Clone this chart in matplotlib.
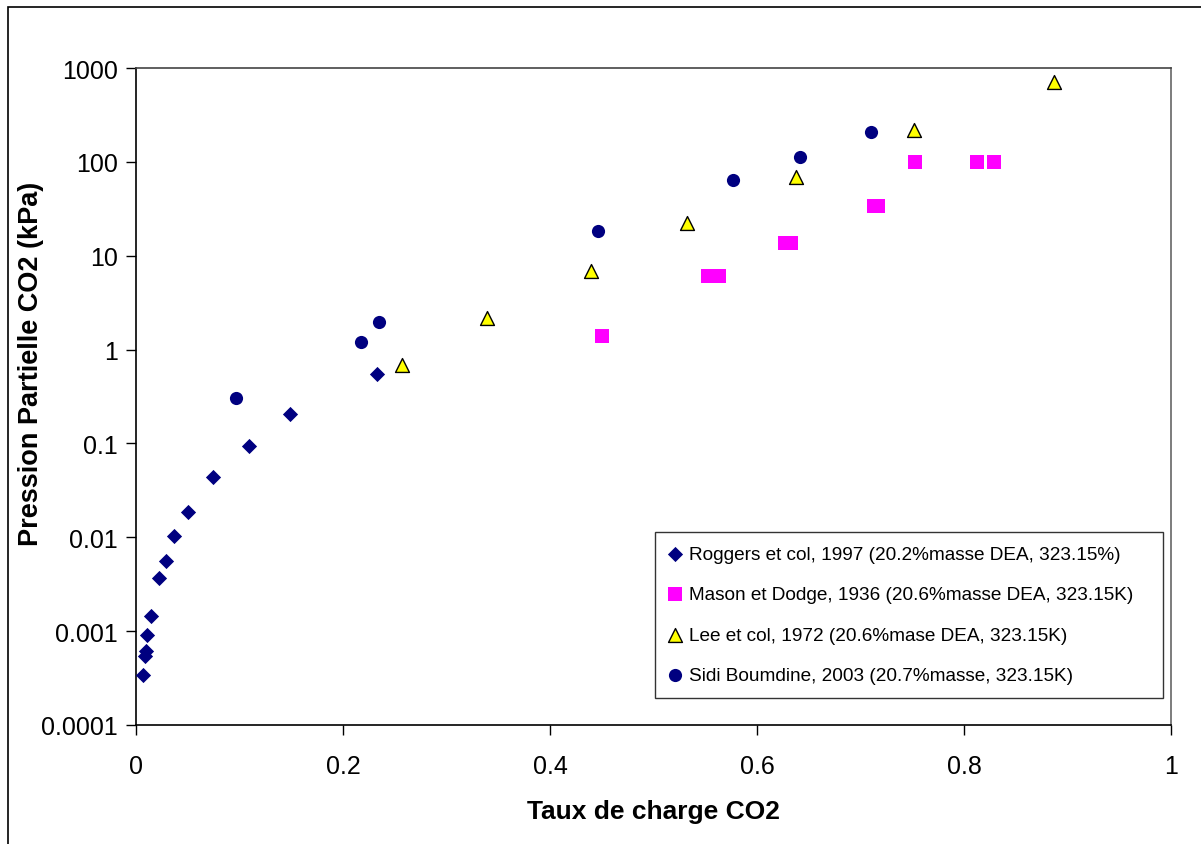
import matplotlib
matplotlib.use("Agg")
import matplotlib.pyplot as plt
from matplotlib.patches import Rectangle

plt.rcParams['font.family'] = ['Liberation Sans', 'DejaVu Sans']

# Roggers et col, 1997
rog_x = [0.0071, 0.0087, 0.0097, 0.011, 0.0142, 0.0225, 0.0287, 0.0367, 0.0506,
         0.0744, 0.1095, 0.1485, 0.2332]
rog_y = [0.00034, 0.00055, 0.00062, 0.00091, 0.00146, 0.00368, 0.00555, 0.0104, 0.0185,
         0.0436, 0.0946, 0.204, 0.549]

# Mason et Dodge, 1936
mas_x = [0.4506, 0.553, 0.5636, 0.627, 0.633, 0.7128, 0.7166, 0.7527, 0.8126, 0.829]
mas_y = [1.41, 6.08, 6.08, 13.6, 13.6, 34.1, 34.1, 100, 100, 100]

# Lee et col, 1972
lee_x = [0.2573, 0.339, 0.4396, 0.5324, 0.638, 0.752, 0.887]
lee_y = [0.69, 2.17, 6.93, 22.1, 68.4, 220, 705]

# Sidi Boumdine, 2003
sidi_x = [0.0969, 0.2171, 0.2348, 0.446, 0.5765, 0.6412, 0.7101]
sidi_y = [0.307, 1.21, 1.95, 18.3, 64, 113.5, 206]

y_ticks = [0.0001, 0.001, 0.01, 0.1, 1, 10, 100, 1000]
y_labels = ['0.0001', '0.001', '0.01', '0.1', '1', '10', '100', '1000']
x_ticks = [0, 0.2, 0.4, 0.6, 0.8, 1]
x_labels = ['0', '0.2', '0.4', '0.6', '0.8', '1']

fig = plt.figure(figsize=(12.01, 8.45), dpi=100)
# chart area border (right and bottom edges fall outside the picture)
fig.patches.append(Rectangle((8 / 1201, -0.1), 1.2, 1.1 - 8 / 845, transform=fig.transFigure,
                             fill=False, edgecolor='black', linewidth=1.2))
ax = fig.add_axes([136 / 1201, 1 - 726 / 845, 1035 / 1201, 657 / 845])

ax.scatter(rog_x, rog_y, marker='D', s=60, color='#000080', linewidths=0, zorder=3,
           label='Roggers et col, 1997 (20.2%masse DEA, 323.15%)')
ax.scatter(mas_x, mas_y, marker='s', s=110, color='#FF00FF', linewidths=0, zorder=3,
           label='Mason et Dodge, 1936 (20.6%masse DEA, 323.15K)')
ax.scatter(lee_x, lee_y, marker='^', s=100, color='#FFFF00', edgecolors='black',
           linewidths=1.0, zorder=3, label='Lee et col, 1972 (20.6%mase DEA, 323.15K)')
ax.scatter(sidi_x, sidi_y, marker='o', s=90, color='#000080', linewidths=0, zorder=3,
           label='Sidi Boumdine, 2003 (20.7%masse, 323.15K)')

ax.set_yscale('log')
ax.set_xlim(0, 1)
ax.set_ylim(0.0001, 1000)
ax.set_yticks(y_ticks)
ax.set_yticklabels(y_labels)
ax.set_xticks(x_ticks)
ax.set_xticklabels(x_labels)
ax.minorticks_off()
ax.tick_params(axis='both', direction='out', length=7, width=1, labelsize=18)
ax.tick_params(axis='y', pad=6)
ax.tick_params(axis='x', pad=14)

ax.spines['left'].set_color('black')
ax.spines['bottom'].set_color('black')
ax.spines['top'].set_color('#444444')
ax.spines['right'].set_color('#666666')
for s in ax.spines.values():
    s.set_linewidth(1.2)

ax.set_xlabel('Taux de charge CO2', fontsize=19, fontweight='bold', va='center')
ax.xaxis.set_label_coords(0.5, -0.131)
ax.set_ylabel('Pression Partielle CO2 (kPa)', fontsize=19.5, fontweight='bold', va='center')
ax.yaxis.set_label_coords(-0.101, 0.551)

leg = ax.legend(loc='lower left', bbox_to_anchor=(0.501, 0.041, 0.491, 0.256), mode='expand',
                fontsize=13.7, frameon=True, fancybox=False, edgecolor='black',
                labelspacing=1.2, handlelength=0.7, handletextpad=0.35,
                borderpad=0.75, scatterpoints=1, borderaxespad=0)
leg.get_frame().set_linewidth(1.0)

fig.savefig('out.png', dpi=100)
